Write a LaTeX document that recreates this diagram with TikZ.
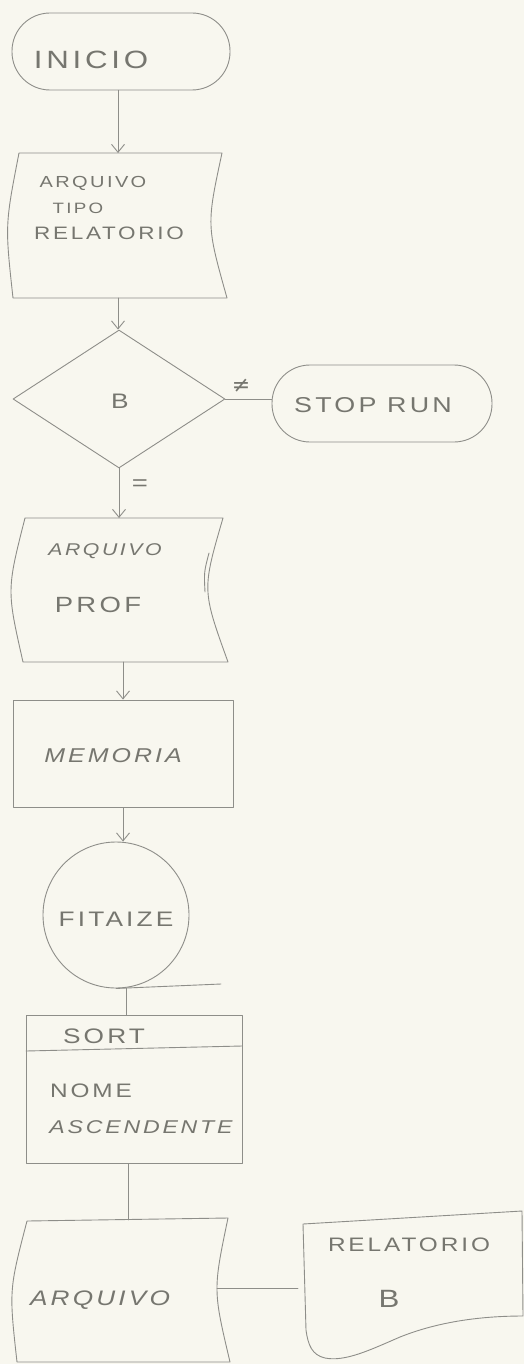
\documentclass[tikz,border=0pt]{standalone}
\usepackage{fontspec}
\setmainfont{Liberation Sans}[FakeStretch=1.25, LetterSpace=15]
\newfontfamily\symfont{DejaVu Sans}
\usetikzlibrary{shapes.geometric, arrows.meta}
\definecolor{paper}{HTML}{F8F7EF}
\definecolor{pencil}{HTML}{8E8E89}
\definecolor{lettering}{HTML}{76766F}

\begin{document}
\begin{tikzpicture}[x=1pt, y=-1pt,
  ink/.style={draw=pencil, line width=0.9pt, line join=round, line cap=round},
  arr/.style={ink, -{Straight Barb[length=8pt, width=13pt]}},
  terminal/.style={ink, rectangle, rounded corners=38pt, inner sep=0pt},
  frame/.style={inner sep=0pt, outer sep=0pt},
  txt/.style={text=lettering, inner sep=0pt},
  fs/.style={font=\fontsize{#1}{#1}\selectfont}
]
\fill[paper] (0,0) rectangle (524,1364);
\useasboundingbox (0,0) rectangle (524,1364);

% start terminal
\node[terminal, minimum width=218, minimum height=77] (inicio) at (121,51.5) {};
\node[txt, fs=25] (tinicio) at (91,60) {INICIO};

% input file: ARQUIVO TIPO RELATORIO
\node[frame, minimum width=210, minimum height=145] (arq1) at (118,225.5) {};
\draw[ink] (19,153) -- (222,153) .. controls (206.5,225) .. (227,298)
  -- (13,298) .. controls (5,225) .. (19,153) -- cycle;
\node[txt, fs=16] (t1a) at (93,183) {ARQUIVO};
\node[txt, fs=15] (t1b) at (78,208) {TIPO};
\node[txt, fs=18] (t1c) at (109,233) {RELATORIO};

% decision B
\node[ink, diamond, minimum width=212, minimum height=138, inner sep=0pt] (dec) at (119,399) {};
\node[txt, fs=21] (tdec) at (120,401) {B};

% stop terminal
\node[terminal, minimum width=220, minimum height=77] (stop) at (382,403.5) {};
\node[txt, fs=21.5] (tstop) at (373,405) {STOP RUN};
\node[txt, font=\symfont\fontsize{22}{22}\selectfont] (tne) at (241,386) {≠};

% file PROF
\node[frame, minimum width=205, minimum height=144] (arq2) at (120,590) {};
\draw[ink] (25,518) -- (223,518) .. controls (202,590) .. (228,662)
  -- (23,662) .. controls (6.7,590) .. (25,518) -- cycle;
\draw[ink] (209,553) .. controls (204,572) .. (205,592);
\node[txt, fs=17] (t2a) at (105,551) {\itshape ARQUIVO};
\node[txt, fs=22] (t2b) at (98,605) {PROF};
\node[txt, fs=22] (teq) at (140,485) {=};

% memory block
\node[ink, rectangle, minimum width=220, minimum height=107, inner sep=0pt] (mem) at (123,753.5) {};
\node[txt, fs=20] (tmem) at (113,756) {\itshape MEMORIA};

% tape
\node[ink, circle, minimum size=146, inner sep=0pt] (fita) at (116,915) {};
\node[txt, fs=21] (tfita) at (116,919) {FITAIZE};
\coordinate (tapeend) at (221,984);

% sort block
\node[ink, rectangle, minimum width=216, minimum height=148, inner sep=0pt] (sort) at (134,1089) {};
\coordinate (sepl) at (26,1051);
\coordinate (sepr) at (242,1046);
\node[txt, fs=21] (tsort) at (104,1036) {SORT};
\node[txt, fs=19.5] (tnome) at (91,1091) {NOME};
\node[txt, fs=18.5] (tasc) at (141,1127) {\itshape ASCENDENTE};

% output file ARQUIVO
\node[frame, minimum width=205, minimum height=142] (arq3) at (123,1291) {};
\draw[ink] (27,1221) -- (228,1218) .. controls (213,1290) .. (230,1362)
  -- (17,1362) .. controls (9,1290) .. (27,1221) -- cycle;
\node[txt, fs=21] (t3) at (100,1300) {\itshape ARQUIVO};
\coordinate (arq3e) at (217,1288);

% report document
\node[frame, minimum width=220, minimum height=140] (rel) at (413,1285) {};
\draw[ink] (303,1224) -- (522,1211) -- (523,1316)
  .. controls (470,1316) and (430,1325) .. (400,1337)
  .. controls (370,1350) and (345,1362) .. (325,1358)
  .. controls (312,1355) and (308,1345) .. (306,1330) -- cycle;
\node[txt, fs=19.5] (trel) at (409,1245) {RELATORIO};
\node[txt, fs=25] (trelb) at (389,1299) {B};

% connectors
\draw[arr] (inicio.south -| arq1.north) -- (arq1.north);
\draw[arr] (arq1.south) -- (arq1.south |- dec.north);
\draw[ink] (dec.east) -- (dec.east -| stop.west);
\draw[arr] (dec.south) -- (dec.south |- arq2.north);
\draw[arr] (arq2.south -| mem.north) -- (mem.north);
\draw[arr] (mem.south) -- (mem.south |- fita.north);
\draw[ink] (fita.south) -- (tapeend);
\draw[ink] ([xshift=10pt]fita.south) -- ([xshift=10pt]fita.south |- sort.north);
\draw[ink] (sepl) -- (sepr);
\draw[ink] ([xshift=-6pt]sort.south) -- ([xshift=-6pt]sort.south |- arq3.north);
\draw[ink] (arq3e) -- ([xshift=-5pt]rel.west |- arq3e);
\end{tikzpicture}
\end{document}
